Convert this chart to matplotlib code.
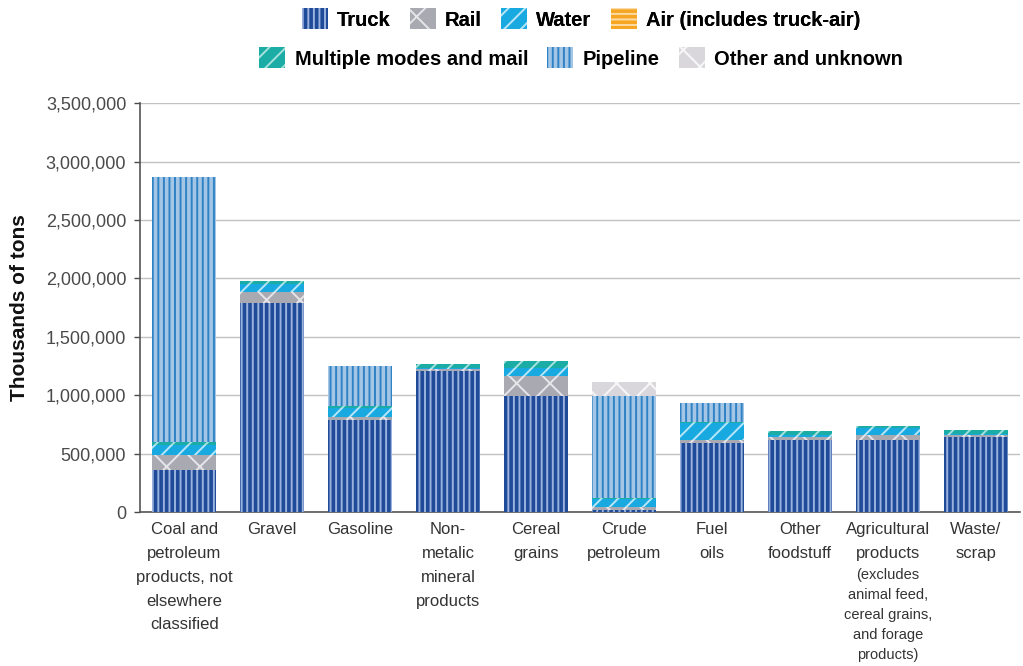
import matplotlib
matplotlib.use("Agg")
import matplotlib.pyplot as plt
from matplotlib.ticker import FuncFormatter
import numpy as np

plt.rcParams['font.family'] = ['Liberation Sans', 'DejaVu Sans']
plt.rcParams['hatch.linewidth'] = 1.4

categories = [
    "Coal and\npetroleum\nproducts, not\nelsewhere\nclassified",
    "Gravel",
    "Gasoline",
    "Non-\nmetalic\nmineral\nproducts",
    "Cereal\ngrains",
    "Crude\npetroleum",
    "Fuel\noils",
    "Other\nfoodstuff",
    "Agricultural\nproducts",
    "Waste/\nscrap",
]
agri_note = "(excludes\nanimal feed,\ncereal grains,\nand forage\nproducts)"

# Thousands of tons by mode
truck = [360000, 1790000, 790000, 1210000, 990000, 20000, 590000, 615000, 615000, 645000]
rail = [130000, 95000, 25000, 15000, 175000, 20000, 25000, 25000, 45000, 15000]
water = [85000, 70000, 75000, 5000, 70000, 75000, 145000, 20000, 60000, 10000]
air = [1000, 1000, 1000, 1000, 1000, 1000, 1000, 1000, 2000, 1000]
multiple = [25000, 25000, 15000, 40000, 60000, 5000, 10000, 35000, 18000, 30000]
pipeline = [2270000, 0, 345000, 0, 0, 870000, 165000, 0, 0, 0]
other = [0, 0, 0, 0, 0, 120000, 0, 0, 0, 0]

modes = ["Truck", "Rail", "Water", "Air (includes truck-air)",
         "Multiple modes and mail", "Pipeline", "Other and unknown"]
series = [truck, rail, water, air, multiple, pipeline, other]
styles = [
    dict(color="#1F4B99", edgecolor="#9BB2DE", hatch="|||"),
    dict(color="#A9A9B1", edgecolor="#E6E6EA", hatch="x"),
    dict(color="#19A9E1", edgecolor="#B8E6F8", hatch="//"),
    dict(color="#F6A623", edgecolor="#FCDCA6", hatch="---"),
    dict(color="#1BADA5", edgecolor="#A6E2DD", hatch="//"),
    dict(color="#A4C6E6", edgecolor="#2F82C4", hatch="|||"),
    dict(color="#DAD7DC", edgecolor="#F7F7F7", hatch="x"),
]

fig = plt.figure(figsize=(10.23, 6.66), dpi=100)
ax = fig.add_axes([0.137, 0.231, 0.860, 0.614])

x = np.arange(len(categories))
bottom = np.zeros(len(categories))
handles = []
for name, vals, st in zip(modes, series, styles):
    vals = np.array(vals, dtype=float)
    b = ax.bar(x, vals, width=0.72, bottom=bottom, linewidth=0, label=name,
               zorder=3, **st)
    handles.append(b)
    bottom += vals

ax.set_xlim(-0.5, len(categories) - 0.5)
ax.set_ylim(0, 3500000)
ax.set_yticks(np.arange(0, 3500001, 500000))
ax.yaxis.set_major_formatter(FuncFormatter(lambda v, p: f"{int(v):,}"))
ax.grid(axis="y", color="#C4C0C0", linewidth=1.0, zorder=0)
ax.set_axisbelow(True)

for s in ["top", "right"]:
    ax.spines[s].set_visible(False)
for s in ["left", "bottom"]:
    ax.spines[s].set_color("#555555")
    ax.spines[s].set_linewidth(1.2)

ax.tick_params(axis="y", labelsize=13, colors="#4a4a4a", length=4, width=1, pad=6)
ax.tick_params(axis="x", length=0, pad=7)
ax.set_xticks(x)
ax.set_xticklabels(categories, fontsize=12, color="#333333", linespacing=1.74)

# smaller parenthetical under the agricultural label
ax.annotate(agri_note, xy=(8, 0), xycoords=("data", "axes fraction"),
            xytext=(0, -40), textcoords="offset points", ha="center", va="top",
            fontsize=10.5, color="#333333", linespacing=1.56)

ax.set_ylabel("Thousands of tons", fontsize=15, fontweight="bold", color="#111111",
              labelpad=12)

leg_font = dict(size=14.5, weight="bold")
leg_kw = dict(loc="center", frameon=False, prop=leg_font, handlelength=1.3,
              handleheight=1.2, handletextpad=0.45, columnspacing=0.95, borderpad=0)
leg1 = fig.legend(handles[:4], modes[:4], ncol=4,
                  bbox_to_anchor=(581 / 1023, 1 - 19 / 666), **leg_kw)
leg2 = fig.legend(handles[4:], modes[4:], ncol=3,
                  bbox_to_anchor=(581 / 1023, 1 - 58 / 666), **leg_kw)
fig.add_artist(leg1)

fig.savefig("out.png", dpi=100, facecolor="white")
